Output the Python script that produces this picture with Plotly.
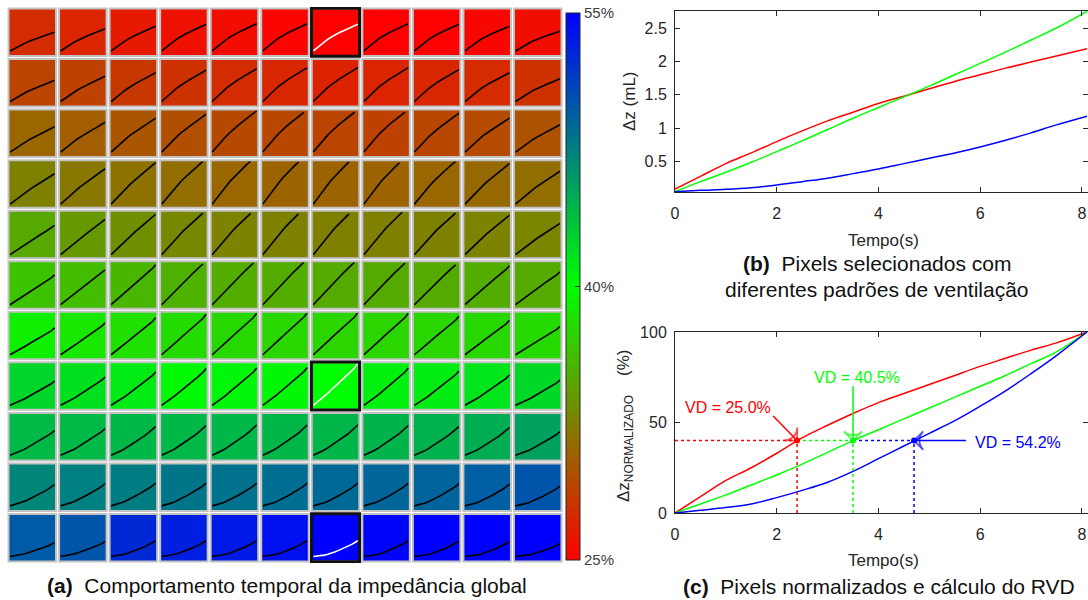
import numpy as np
import plotly.graph_objects as go

# ---------------- data ----------------
T = [0, 0.5, 1, 1.5, 2, 2.5, 3, 3.5, 4, 4.5, 5, 5.5, 6, 6.5, 7, 7.5, 8.1]

DZ_RED = [0.09, 0.28, 0.47, 0.63, 0.80, 0.96, 1.11, 1.24, 1.37, 1.48, 1.59, 1.70, 1.80, 1.90, 1.99, 2.08, 2.19]
DZ_GREEN = [0.05, 0.20, 0.34, 0.49, 0.65, 0.81, 0.98, 1.15, 1.31, 1.47, 1.63, 1.80, 1.97, 2.14, 2.32, 2.50, 2.75]
DZ_BLUE = [0.05, 0.07, 0.085, 0.11, 0.15, 0.20, 0.25, 0.32, 0.39, 0.47, 0.55, 0.63, 0.72, 0.82, 0.93, 1.05, 1.18]

NORM_RED = [0, 9, 18, 25, 33, 41.5, 48.5, 55, 61, 66, 71, 76, 81, 85.5, 90, 94, 100]
NORM_GREEN = [0, 5, 10, 15.5, 21, 27, 33.5, 40, 46, 52, 58, 64, 70, 76, 82.5, 89, 100]
NORM_BLUE = [0, 1.5, 3, 5, 8.5, 12.5, 17, 23, 30, 37, 44, 51, 59, 67.5, 77, 87, 100]

# regional ventilation delay (%) of each pixel of the 11x11 map (row 0 = top)
VD_MAP = [
    [27.6, 27.1, 26.5, 26.0, 25.7, 25.3, 25.0, 25.0, 25.1, 25.4, 25.8],
    [29.0, 28.8, 28.3, 27.9, 27.6, 27.3, 27.0, 27.1, 27.3, 27.5, 27.9],
    [31.0, 30.5, 30.0, 29.6, 29.3, 29.2, 29.0, 28.8, 29.1, 29.4, 29.8],
    [32.6, 32.0, 31.7, 31.4, 31.0, 30.9, 30.8, 30.8, 31.0, 31.2, 31.4],
    [34.9, 34.0, 33.4, 33.0, 32.7, 32.6, 32.5, 32.5, 32.6, 32.7, 32.8],
    [36.4, 36.1, 35.7, 35.4, 35.2, 35.1, 35.0, 35.0, 35.0, 35.1, 35.0],
    [39.1, 38.6, 38.2, 37.9, 37.7, 37.6, 37.5, 37.5, 37.6, 37.7, 37.8],
    [42.4, 41.8, 41.2, 40.3, 40.5, 40.4, 40.0, 40.8, 41.1, 41.5, 42.3],
    [44.1, 44.1, 44.2, 44.2, 44.2, 44.3, 44.3, 44.4, 44.6, 44.8, 45.6],
    [47.1, 47.5, 47.7, 48.1, 48.3, 48.6, 48.8, 49.0, 49.2, 49.5, 50.0],
    [49.7, 50.0, 52.6, 53.2, 53.5, 54.1, 55.0, 54.7, 55.0, 55.0, 55.0],
]

# relative impedance amplitude of each pixel's mini curve (fraction of cell height)
CURVE_START = [0.13, 0.13, 0.13, 0.10, 0.10, 0.11, 0.12, 0.12, 0.13, 0.13, 0.13]
CURVE_END = [
    [0.50, 0.57, 0.62, 0.66, 0.67, 0.67, 0.66, 0.67, 0.66, 0.62, 0.52],
    [0.55, 0.63, 0.70, 0.75, 0.78, 0.80, 0.80, 0.80, 0.76, 0.70, 0.58],
    [0.63, 0.72, 0.80, 0.88, 0.95, 0.98, 0.98, 0.98, 0.90, 0.80, 0.67],
    [0.70, 0.80, 0.92, 1.02, 1.08, 1.12, 1.12, 1.10, 1.02, 0.90, 0.75],
    [0.68, 0.80, 0.90, 1.00, 1.05, 1.10, 1.10, 1.08, 1.00, 0.88, 0.72],
    [0.70, 0.80, 0.90, 1.00, 1.02, 1.04, 1.04, 1.02, 0.98, 0.88, 0.76],
    [0.65, 0.75, 0.85, 0.92, 0.94, 0.95, 0.95, 0.94, 0.88, 0.80, 0.68],
    [0.60, 0.68, 0.78, 0.85, 0.86, 0.87, 0.95, 0.86, 0.80, 0.72, 0.62],
    [0.62, 0.66, 0.70, 0.72, 0.73, 0.73, 0.73, 0.72, 0.70, 0.68, 0.60],
    [0.55, 0.57, 0.58, 0.58, 0.58, 0.58, 0.58, 0.58, 0.57, 0.56, 0.52],
    [0.40, 0.42, 0.44, 0.44, 0.44, 0.44, 0.44, 0.44, 0.43, 0.42, 0.38],
]
HIGHLIGHT = [(0, 6), (7, 6), (10, 6)]

VD_TIMES = [2.4, 3.5, 4.7]
VD_LABELS = ["VD = 25.0%", "VD = 40.5%", "VD = 54.2%"]
ARROW_TAIL_X = [1.93, 3.5, 5.72]
ARROW_TAIL_Y = [53.6, 70.0, 40.0]
THRESHOLD = 40
CB_TICKS = [25, 40, 55]
CB_LABELS = ["25%", "40%", "55%"]
X_TICKS = [0, 2, 4, 6, 8]
YB_TICKS = [0.5, 1, 1.5, 2, 2.5]
YC_TICKS = [0, 50, 100]

RED, GREEN, BLUE = "#ff0000", "#00ff00", "#0000ff"
AXC = "#262626"
FONT = "Liberation Sans, Arial, sans-serif"

W, H = 1088, 600
def px(x):
    return x / W
def py(y):
    return 1 - y / H

fig = go.Figure()

# ---------------- panel (a) ----------------
N = len(VD_MAP)
fig.add_trace(go.Heatmap(
    z=VD_MAP, x=list(range(N)), y=[N - 1 - r for r in range(N)],
    zmin=25, zmax=55, xgap=4, ygap=4,
    colorscale=[[0, "rgb(255,0,0)"], [0.5, "rgb(0,255,0)"], [1, "rgb(0,0,255)"]],
    hoverinfo="skip",
    colorbar=dict(
        x=px(566), xanchor="left", xpad=0, ypad=0,
        y=py(286.5), yanchor="middle", len=547 / H, lenmode="fraction",
        thickness=14, thicknessmode="pixels",
        outlinewidth=1, outlinecolor=AXC,
        tickvals=CB_TICKS, ticktext=CB_LABELS, ticks="inside", ticklen=5,
        tickcolor=AXC, tickfont=dict(size=15, color="#404040", family=FONT),
    ),
    xaxis="x", yaxis="y",
))

tn = np.array(T) / T[-1]
nr, ng, nb = (np.array(v) / 100.0 for v in (NORM_RED, NORM_GREEN, NORM_BLUE))
bx, by, wx, wy = [], [], [], []
for r in range(N):
    for c in range(N):
        vd = VD_MAP[r][c]
        if vd <= 40:
            w = (vd - 25) / 15
            shape = (1 - w) * nr + w * ng
        else:
            w = (vd - 40) / 15
            shape = (1 - w) * ng + w * nb
        s, e = CURVE_START[r], CURVE_END[r][c]
        frac = s + (e - s) * shape
        xs = c - 0.44 + 0.88 * tn
        ys = (N - 1 - r) - 0.5 + frac
        ys = np.where(frac > 0.955, np.nan, ys)
        if (r, c) in HIGHLIGHT:
            wx += list(xs) + [None]; wy += list(ys) + [None]
        else:
            bx += list(xs) + [None]; by += list(ys) + [None]

fig.add_trace(go.Scatter(x=bx, y=by, mode="lines", line=dict(color="black", width=1.6),
                         hoverinfo="skip", showlegend=False, xaxis="x", yaxis="y", connectgaps=False))
fig.add_trace(go.Scatter(x=wx, y=wy, mode="lines", line=dict(color="white", width=1.6),
                         hoverinfo="skip", showlegend=False, xaxis="x", yaxis="y", connectgaps=False))

shapes = []
for r in range(N):
    for c in range(N):
        yc = N - 1 - r
        shapes.append(dict(type="rect", xref="x", yref="y", x0=c - 0.47, x1=c + 0.47,
                           y0=yc - 0.47, y1=yc + 0.47, line=dict(color="#c2c2c2", width=2)))
for (r, c) in HIGHLIGHT:
    yc = N - 1 - r
    shapes.append(dict(type="rect", xref="x", yref="y", x0=c - 0.475, x1=c + 0.475,
                       y0=yc - 0.475, y1=yc + 0.475, line=dict(color="#111111", width=3)))

# ---------------- panel (b) ----------------
for ys_, col in ((DZ_RED, RED), (DZ_GREEN, GREEN), (DZ_BLUE, BLUE)):
    fig.add_trace(go.Scatter(x=T, y=ys_, mode="lines", line=dict(color=col, width=1.5, shape="spline"),
                             showlegend=False, xaxis="x2", yaxis="y2"))

# ---------------- panel (c) ----------------
cols = [RED, GREEN, BLUE]
for ys_, col in ((NORM_RED, RED), (NORM_GREEN, GREEN), (NORM_BLUE, BLUE)):
    fig.add_trace(go.Scatter(x=T, y=ys_, mode="lines", line=dict(color=col, width=1.5, shape="spline"),
                             showlegend=False, xaxis="x3", yaxis="y3"))
prev = 0
for t, col in zip(VD_TIMES, cols):
    fig.add_trace(go.Scatter(x=[prev, t], y=[THRESHOLD, THRESHOLD], mode="lines",
                             line=dict(color=col, width=1.5, dash="dot"),
                             showlegend=False, xaxis="x3", yaxis="y3"))
    fig.add_trace(go.Scatter(x=[t, t], y=[0, THRESHOLD], mode="lines",
                             line=dict(color=col, width=1.5, dash="dot"),
                             showlegend=False, xaxis="x3", yaxis="y3"))
    prev = t
fig.add_trace(go.Scatter(x=VD_TIMES, y=[THRESHOLD] * 3, mode="markers",
                         marker=dict(color=cols, size=6), showlegend=False, xaxis="x3", yaxis="y3"))
# arrows pointing at the VD points
for t, col, axx, ayy in zip(VD_TIMES, cols, ARROW_TAIL_X, ARROW_TAIL_Y):
    fig.add_trace(go.Scatter(x=[axx, t], y=[ayy, THRESHOLD], mode="lines+markers",
                             line=dict(color=col, width=1.5),
                             marker=dict(symbol="arrow-wide-open", size=[0, 13], angleref="previous",
                                         color=col, line=dict(color=col, width=1.8)),
                             showlegend=False, xaxis="x3", yaxis="y3", hoverinfo="skip"))

ax_common = dict(showgrid=False, zeroline=False, showline=True, linecolor=AXC, linewidth=1,
                 mirror="allticks", ticks="inside", ticklen=5, tickcolor=AXC,
                 tickfont=dict(size=16, color=AXC, family=FONT))

annotations = []
label_pos = [(728, 407), (857, 377), (1018, 442)]
for col, lab, (lx, ly) in zip(cols, VD_LABELS, label_pos):
    annotations.append(dict(x=px(lx), y=py(ly), xref="paper", yref="paper", text=lab,
                            showarrow=False, font=dict(size=16, color=col, family=FONT),
                            xanchor="center", yanchor="middle"))

def txt(x, y, s, size=17, color=AXC, angle=0):
    annotations.append(dict(x=px(x), y=py(y), xref="paper", yref="paper", text=s, showarrow=False,
                            textangle=angle, font=dict(size=size, color=color, family=FONT),
                            xanchor="center", yanchor="middle"))

txt(883, 240, "Tempo(s)")
txt(883, 560, "Tempo(s)")
txt(629, 101, "Δz (mL)", angle=-90)
txt(625, 426, "Δz<sub>NORMALIZADO</sub>    (%)", angle=-90)
txt(287, 585, "<b>(a)</b>  Comportamento temporal da impedância global", size=21, color="#111111")
txt(877, 263, "<b>(b)</b>  Pixels selecionados com", size=21, color="#111111")
txt(877, 289, "diferentes padrões de ventilação", size=21, color="#111111")
txt(879, 586, "<b>(c)</b>  Pixels normalizados e cálculo do RVD", size=21, color="#111111")

fig.update_layout(
    width=W, height=H, margin=dict(l=0, r=0, t=0, b=0, pad=0, autoexpand=False),
    paper_bgcolor="white", plot_bgcolor="white",
    font=dict(family=FONT, color=AXC),
    showlegend=False,
    xaxis=dict(domain=[px(7), px(563)], range=[-0.5, 10.5], visible=False, fixedrange=True),
    yaxis=dict(domain=[py(563), py(7)], range=[-0.5, 10.5], visible=False, fixedrange=True),
    xaxis2=dict(domain=[px(675), 1.0], range=[0, 8.12], anchor="y2", tickvals=X_TICKS,
                ticklabelstandoff=7, **ax_common),
    yaxis2=dict(domain=[py(192), py(11)], range=[0.045, 2.755], anchor="x2", tickvals=YB_TICKS,
                ticklabelstandoff=4, **ax_common),
    xaxis3=dict(domain=[px(675), 1.0], range=[0, 8.12], anchor="y3", tickvals=X_TICKS,
                ticklabelstandoff=7, **ax_common),
    yaxis3=dict(domain=[py(513), py(332)], range=[0, 100], anchor="x3", tickvals=YC_TICKS,
                ticklabelstandoff=4, **ax_common),
    shapes=shapes,
    annotations=annotations,
)

fig.write_html("out.html")
